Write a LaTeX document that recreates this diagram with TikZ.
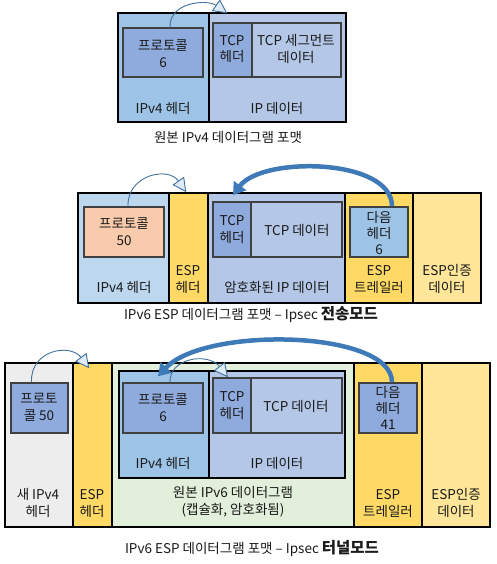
\documentclass[tikz,border=0pt]{standalone}
\usepackage{fontspec}
\setmainfont{Noto Sans CJK KR}
\usetikzlibrary{arrows.meta,fit,calc}
\definecolor{hdrA}{HTML}{9DC3E6}
\definecolor{hdrB}{HTML}{BDD7EE}
\definecolor{dataC}{HTML}{B4C7E7}
\definecolor{protoC}{HTML}{8FAADC}
\definecolor{peachC}{HTML}{F8CBAD}
\definecolor{espC}{HTML}{FFD966}
\definecolor{authC}{HTML}{FFE699}
\definecolor{greyC}{HTML}{EDEDED}
\definecolor{greenC}{HTML}{E2EFDA}
\definecolor{arrowblue}{HTML}{41719C}
\definecolor{headfill}{HTML}{DEEBF7}
\definecolor{thickblue}{HTML}{3F7AB8}
\definecolor{txtC}{HTML}{1A1A1A}
\tikzset{
 reg/.style={inner sep=0pt, draw=black, line width=1.5pt},
 ibox/.style={inner sep=0pt, draw=black!75, line width=1.5pt},
 outerbox/.style={inner sep=0pt, draw=black, line width=2pt},
 lbl/.style={font=\fontsize{13.5}{17}\selectfont, text=txtC, align=center, inner sep=0pt},
 thinarrow/.style={draw=arrowblue, line width=0.9pt, -{Triangle[length=14pt,width=14pt,fill=headfill]}},
 thickarrow/.style={draw=thickblue, line width=4.5pt, -{Triangle[length=12pt,width=15pt]}},
}
\begin{document}
\begin{tikzpicture}[x=1pt,y=-1pt]
\useasboundingbox (0,0) rectangle (496,564);
% ---------- Diagram 1 ----------
\node[reg, fill=hdrA, fit={(118,13) (209,122)}] (d1h) {};
\node[reg, fill=dataC, fit={(209,13) (346,122)}] (d1d) {};
\node[outerbox, fit={(118,13) (346,122)}] (d1) {};
\node[ibox, fill=protoC, fit={(123,28) (203,77)}] (d1p) {};
\node[ibox, fill=protoC, fit={(213,23) (252,77)}] (d1th) {};
\node[ibox, fill=dataC, fit={(252,23) (341,77)}] (d1td) {};
\node[outerbox, draw=black!75, line width=1.5pt, fit={(213,23) (341,77)}] (d1tcp) {};
\node[lbl] (l1p) at (163,54) {프로토콜\\6};
\node[lbl] (l1th) at (232,49) {TCP\\헤더};
\node[lbl] (l1td) at (296,49) {TCP 세그먼트\\데이터};
\node[lbl] (l1h) at (163,108) {IPv4 헤더};
\node[lbl] (l1d) at (277,108) {IP 데이터};
\node[lbl] (c1) at (228,137) {원본 IPv4 데이터그램 포맷};
\draw[thinarrow] ($(d1p.north)+(7,0)$) .. controls (169,2) and (207,-1) .. ($(d1d.north west)+(19,1)$);
% ---------- Diagram 2 ----------
\node[reg, fill=hdrB, fit={(78,193) (169,303)}] (d2h) {};
\node[reg, fill=espC, fit={(169,193) (208,303)}] (d2e) {};
\node[reg, fill=dataC, fit={(208,193) (345,303)}] (d2d) {};
\node[reg, fill=espC, fit={(345,193) (413,303)}] (d2t) {};
\node[reg, fill=authC, fit={(413,193) (481,303)}] (d2a) {};
\node[outerbox, fit={(78,193) (481,303)}] (d2) {};
\node[ibox, fill=peachC, fit={(84,207) (164,257)}] (d2p) {};
\node[ibox, fill=protoC, fit={(213,202) (251,257)}] (d2th) {};
\node[ibox, fill=dataC, fit={(251,202) (342,257)}] (d2td) {};
\node[ibox, fill=hdrA, fit={(350,207) (408,257)}] (d2n) {};
\node[lbl] (l2p) at (124,232) {프로토콜\\50};
\node[lbl] (l2th) at (232,229) {TCP\\헤더};
\node[lbl] (l2td) at (297,230) {TCP 데이터};
\node[lbl, font=\fontsize{13.5}{16}\selectfont] (l2n) at (379,233) {다음\\헤더\\6};
\node[lbl] (l2h) at (124,287) {IPv4 헤더};
\node[lbl] (l2e) at (188,279) {ESP\\헤더};
\node[lbl] (l2d) at (277,287) {암호화된 IP 데이터};
\node[lbl] (l2t) at (379,279) {ESP\\트레일러};
\node[lbl] (l2a) at (447,279) {ESP인증\\데이터};
\node[lbl] (c2) at (251,315) {IPv6 ESP 데이터그램 포맷 – Ipsec {\fontsize{15.5}{18}\selectfont\bfseries 전송모드}};
\draw[thinarrow] ($(d2p.north)+(4,0)$) .. controls (127,175) and (168,166) .. ($(d2e.north west)+(18,0)$);
\draw[thickarrow] ($(d2n.north)+(13,0)$) .. controls (392,158) and (262,156) .. ($(d2th.north)+(1,-6)$);
% ---------- Diagram 3 ----------
\node[reg, fill=greyC, fit={(5,363) (73,527)}] (d3n) {};
\node[reg, fill=espC, fit={(73,363) (112,527)}] (d3e) {};
\node[reg, fill=greenC, fit={(112,363) (354,527)}] (d3o) {};
\node[reg, fill=espC, fit={(354,363) (422,527)}] (d3t) {};
\node[reg, fill=authC, fit={(422,363) (490,527)}] (d3a) {};
\node[outerbox, fit={(5,363) (490,527)}] (d3) {};
\node[ibox, fill=protoC, fit={(11,383) (68,433)}] (d3p1) {};
\node[reg, fill=hdrA, fit={(119,371) (209,478)}] (d3ih) {};
\node[reg, fill=dataC, fit={(209,371) (345,478)}] (d3id) {};
\node[outerbox, fit={(119,371) (345,478)}] (d3i) {};
\node[ibox, fill=protoC, fit={(123,383) (203,433)}] (d3p2) {};
\node[ibox, fill=protoC, fit={(213,378) (251,433)}] (d3th) {};
\node[ibox, fill=dataC, fit={(251,378) (342,433)}] (d3td) {};
\node[ibox, fill=protoC, fit={(359,383) (417,433)}] (d3nh) {};
\node[lbl] (l3p1) at (39,407) {프로토\\콜 50};
\node[lbl] (l3p2) at (163,408) {프로토콜\\6};
\node[lbl] (l3th) at (232,405) {TCP\\헤더};
\node[lbl] (l3td) at (296,406) {TCP 데이터};
\node[lbl, font=\fontsize{13.5}{16}\selectfont] (l3nh) at (388,408) {다음\\헤더\\41};
\node[lbl] (l3ih) at (163,463) {IPv4 헤더};
\node[lbl] (l3id) at (277,463) {IP 데이터};
\node[lbl] (l3n) at (38,503) {새 IPv4\\헤더};
\node[lbl] (l3e) at (92,503) {ESP\\헤더};
\node[lbl] (l3o) at (233,502) {원본 IPv6 데이터그램\\(캡슐화, 암호화됨)};
\node[lbl] (l3t) at (388,503) {ESP\\트레일러};
\node[lbl] (l3a) at (456,503) {ESP인증\\데이터};
\node[lbl] (c3) at (252,548) {IPv6 ESP 데이터그램 포맷 – Ipsec {\fontsize{15.5}{18}\selectfont\bfseries 터널모드}};
\draw[thinarrow] ($(d3p1.north)+(-8,0)$) .. controls (30,350) and (70,343) .. ($(d3e.north west)+(17,6)$);
\draw[thinarrow] ($(d3p2.north)+(7,0)$) .. controls (169,358) and (208,352) .. ($(d3th.north)+(-4,0)$);
\draw[thickarrow] ($(d3nh.north)+(4,0)$) .. controls (392,330) and (205,326) .. ($(d3p2.north)+(-5,-6)$);
\end{tikzpicture}
\end{document}
